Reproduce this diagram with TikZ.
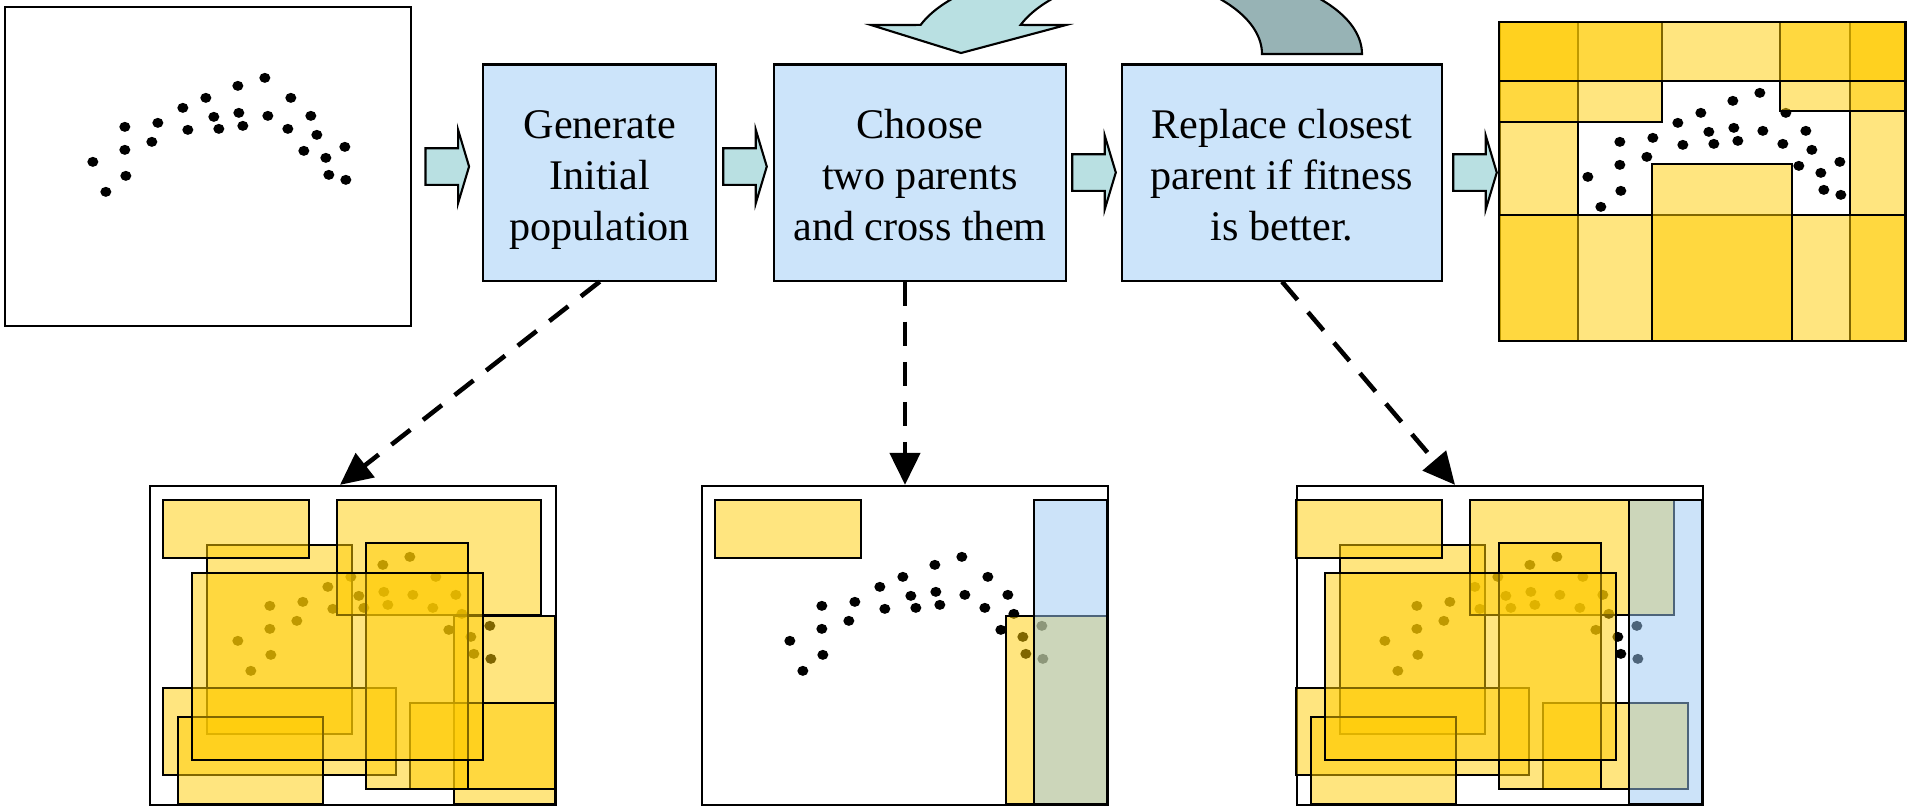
\documentclass[tikz,border=0pt]{standalone}
\usepackage{fontspec}
\setmainfont{Liberation Serif}
\usetikzlibrary{calc,arrows.meta}

\definecolor{boxblue}{RGB}{204,228,250}
\definecolor{flowcyan}{RGB}{185,224,226}
\definecolor{loopgrey}{RGB}{151,179,181}
\definecolor{candgold}{RGB}{255,204,0}
\definecolor{childblue}{RGB}{155,201,245}

\tikzset{
	panel/.style		= {draw, fill=white, line width=0.6pt, minimum width=4.06cm, minimum height=3.19cm, inner sep=0pt},
	process/.style		= {draw, fill=boxblue, line width=0.6pt, minimum height=2.16cm, inner sep=0pt, align=center, font=\fontsize{12pt}{14.5pt}\selectfont},
	flowarrow/.style	= {draw, fill=flowcyan, line width=0.6pt},
	loopfront/.style	= {draw, fill=flowcyan, line width=0.6pt},
	loopback/.style		= {draw, fill=loopgrey, line width=0.6pt},
	pointer/.style		= {line width=1.3pt, dash pattern=on 6.8pt off 4.6pt, -{Triangle[length=0.32cm,width=0.3cm]}},
	cand/.style			= {draw=black, line width=0.6pt, fill=candgold, fill opacity=0.5},
	child/.style		= {draw=black, line width=0.6pt, fill=childblue, fill opacity=0.5},
}

% three text lines with a fixed height and depth
\newcommand{\threelines}[3]{\rule{0pt}{12.5pt}#1\\#2\\#3\rule[-3pt]{0pt}{3pt}}

% data points, relative to the panel's top left corner
\newcommand{\pointcloud}{%
	\foreach \px/\py in {89/156,102/186,121/121,121/144,122/170,148/136,154/117,179/102,184/124,
		202/92,210/111,215/123,234/80,235/107,239/120,261/72,264/110,284/123,287/92,307/110,
		300/145,313/129,322/152,325/169,341/141,342/174}
		\fill (\px,\py) ellipse[x radius=5.5, y radius=5];}

% the population of rectangles, #1 goes in the place of one of them
\newcommand{\popcands}[1]{%
	\draw[cand] (58,60) rectangle (203,249);
	\draw[cand] (14,203) rectangle (247,290);
	\draw[cand] (29,232) rectangle (174,319);
	\draw[cand] (188,15) rectangle (392,130);
	\draw[cand] (14,15) rectangle (160,73);
	#1
	\draw[cand] (261,218) rectangle (406,304);
	\draw[cand] (217,58) rectangle (319,304);
	\draw[cand] (43,88) rectangle (334,275);}

\newcommand{\blockarrow}[1]{%
	\draw[flowarrow] (#1) ++(-21.8,-18.3) -- ++(32.6,0) -- ++(0,-18.4) -- ++(11,36.7)
		-- ++(-11,36.7) -- ++(0,-18.4) -- ++(-32.6,0) -- cycle;}

\begin{document}
\begin{tikzpicture}[x=0.01cm, y=-0.01cm]
	\useasboundingbox (0,0) rectangle (1908,808);

	\node[panel]						(input)		at (208,166.5)	{};
	\node[process, minimum width=2.325cm]	(gen)		at (599.75,172.5)	{\threelines{Generate}{Initial}{population}};
	\node[process, minimum width=2.92cm]	(choose)	at (920,172.5)	{\threelines{Choose}{two parents}{and cross them}};
	\node[process, minimum width=3.2cm]	(replace)	at (1282,172.5)	{\threelines{Replace closest}{parent if fitness}{is better.}};
	\node[panel]						(result)	at (1703,181.5)	{};

	\node[panel]						(popimg)	at (353,645.5)	{};
	\node[panel]						(crossimg)	at (905,645.5)	{};
	\node[panel]						(replimg)	at (1500,645.5)	{};

	\blockarrow{$(input.east)!0.5!(gen.west|-input.east)$}
	\blockarrow{$(gen.east)!0.5!(choose.west)+(0,-6)$}
	\blockarrow{$(choose.east)!0.5!(replace.west)$}
	\blockarrow{$(replace.east)!0.5!(result.west|-replace.east)+(4,0)$}

	\draw[pointer] (gen.south) -- ($(popimg.north)+(-13,0)$);
	\draw[pointer] (choose.south -| crossimg.north) -- (crossimg.north);
	\draw[pointer] (replace.south) -- ($(replimg.north)+(-45,0)$);

	\begin{scope}
		\clip (0,0) rectangle (1908,808);
		\draw[loopback] plot[domain=0:50, samples=25] ({1086+176*cos(\x)},{54-85*sin(\x)})
			-- plot[domain=50:0, samples=25] ({1186+176*cos(\x)},{54-85*sin(\x)}) -- cycle;
		\draw[loopfront] plot[domain=160:125, samples=25] ({1086+176*cos(\x)},{54-85*sin(\x)})
			-- plot[domain=125:160, samples=25] ({1186+176*cos(\x)},{54-85*sin(\x)})
			-- (1066,25) -- (961,53) -- (871,25) -- cycle;
	\end{scope}

	\begin{scope}[shift={(input.north west)}]
		\pointcloud
	\end{scope}

	\begin{scope}[shift={(result.north west)}]
		\pointcloud
		\draw[cand] (0,1) rectangle (79,320);
		\draw[cand] (351,1) rectangle (406,320);
		\draw[cand] (0,1) rectangle (163,101);
		\draw[cand] (281,1) rectangle (406,90);
		\draw[cand] (0,1) rectangle (406,60);
		\draw[cand] (0,194) rectangle (406,320);
		\draw[cand] (153,143) rectangle (293,320);
	\end{scope}

	\begin{scope}[shift={(popimg.north west)}]
		\pointcloud
		\popcands{\draw[cand] (305,131) rectangle (406,319);}
	\end{scope}

	\begin{scope}[shift={(crossimg.north west)}]
		\pointcloud
		\draw[cand] (14,15) rectangle (160,73);
		\draw[cand] (305,131) rectangle (406,319);
		\draw[child] (333,15) rectangle (406,319);
	\end{scope}

	\begin{scope}[shift={(replimg.north west)}]
		\pointcloud
		\begin{scope}[shift={(-13.5,0)}]
			\popcands{}
		\end{scope}
		\draw[child] (333,15) rectangle (406,319);
	\end{scope}
\end{tikzpicture}
\end{document}
